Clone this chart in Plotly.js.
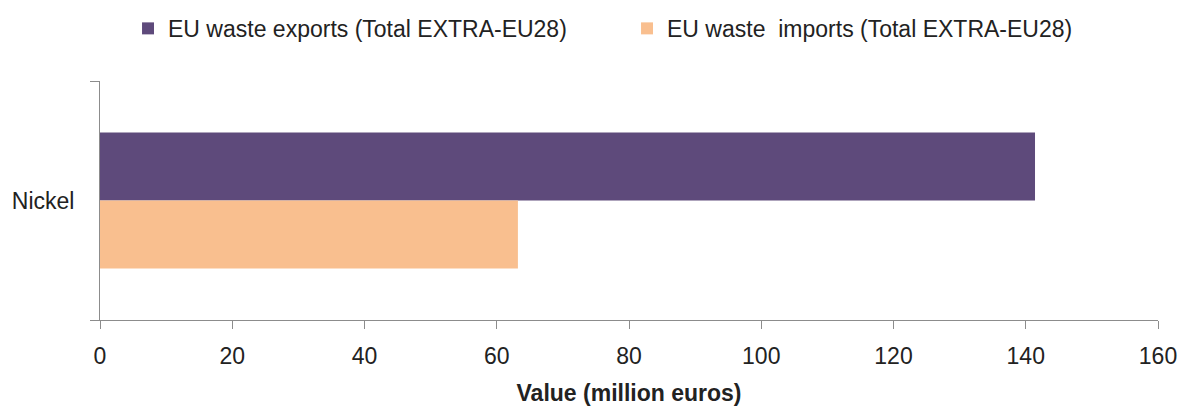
<!DOCTYPE html>
<html>
<head>
<meta charset="utf-8">
<script src="https://cdn.plot.ly/plotly-3.0.1.min.js"></script>
<style>html,body{margin:0;padding:0;background:#fff;}#chart{width:1180px;height:406px;}</style>
</head>
<body>
<div id="chart"></div>
<script>
var categories = ['Nickel'];
var seriesNames = ['EU waste exports (Total EXTRA-EU28)', 'EU waste\u00a0 imports (Total EXTRA-EU28)'];
var exportsValues = [141.4];
var importsValues = [63.2];
var xTickValues = [0, 20, 40, 60, 80, 100, 120, 140, 160];

var FONT = "'Liberation Sans', Arial, sans-serif";

var data = [
  {type: 'bar', orientation: 'h', name: seriesNames[0], y: categories, x: exportsValues,
   marker: {color: '#5E4A7B'}, hoverinfo: 'x+name'},
  {type: 'bar', orientation: 'h', name: seriesNames[1], y: categories, x: importsValues,
   marker: {color: '#F9BF8F'}, hoverinfo: 'x+name'}
];

var layout = {
  width: 1180, height: 406,
  margin: {l: 100, r: 22, t: 81, b: 86, pad: 0},
  paper_bgcolor: '#fff', plot_bgcolor: '#fff',
  font: {family: FONT, size: 22, color: '#222'},
  barmode: 'group', bargap: 0.43, bargroupgap: 0,
  showlegend: true,
  legend: {orientation: 'h', xref: 'container', yref: 'container', x: 0.1085, y: 0.93,
           xanchor: 'left', yanchor: 'middle', entrywidth: 454,
           font: {family: FONT, size: 23, color: '#222'}, bgcolor: 'rgba(0,0,0,0)'},
  xaxis: {range: [0, 160], tickvals: xTickValues, ticktext: xTickValues.map(String),
          showgrid: false, zeroline: false, showline: true, linecolor: '#8c8c8c', linewidth: 1,
          ticks: 'outside', ticklen: 8, tickcolor: '#8c8c8c', ticklabelstandoff: 7,
          tickfont: {family: FONT, size: 23, color: '#222'},
          title: {text: '<b>Value (million euros)</b>', font: {family: FONT, size: 23, color: '#222'}, standoff: 24},
          fixedrange: true},
  yaxis: {autorange: 'reversed', type: 'category', tickson: 'boundaries',
          showgrid: false, zeroline: false, showline: true, linecolor: '#8c8c8c', linewidth: 1,
          ticks: 'outside', ticklen: 9, tickcolor: '#8c8c8c',
          tickfont: {family: FONT, size: 23, color: '#222'}, ticklabelstandoff: 20, fixedrange: true}
};

Plotly.newPlot('chart', data, layout, {displayModeBar: false, staticPlot: true});
</script>
</body>
</html>
